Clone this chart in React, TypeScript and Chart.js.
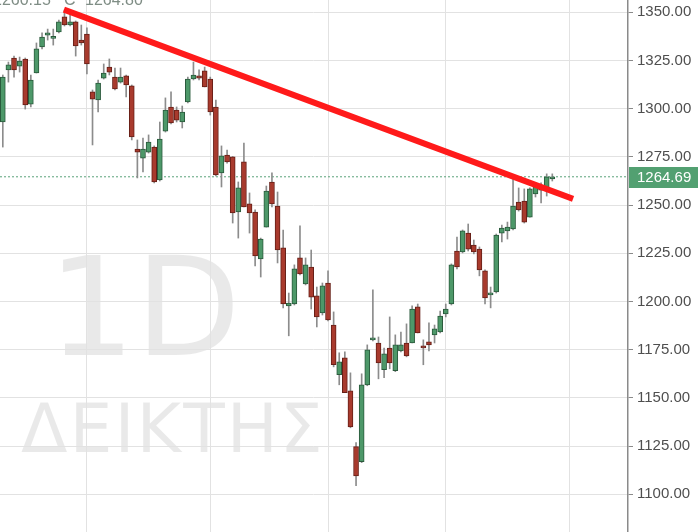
import React, { useEffect, useRef } from "react";
import { Chart, registerables } from "chart.js";

Chart.register(...registerables);

const opens = [
  1293.1, 1320.1, 1326.3, 1322.1, 1325.8, 1302.4, 1318.5, 1332.0, 1338.2, 1336.5,
  1339.8, 1347.6, 1343.4, 1345.0, 1335.6, 1338.7, 1308.7, 1304.5, 1315.9, 1321.6,
  1316.4, 1313.8, 1317.0, 1311.8, 1279.1, 1274.4, 1277.5, 1280.1, 1263.0, 1288.4,
  1300.9, 1299.3, 1293.1, 1303.5, 1315.4, 1317.0, 1319.6, 1315.4, 1300.9, 1266.7,
  1276.0, 1275.0, 1246.4, 1272.4, 1250.6, 1246.4, 1222.1, 1238.6, 1262.0, 1249.5,
  1227.8, 1197.7, 1198.7, 1222.6, 1209.1, 1217.9, 1202.9, 1194.1, 1209.6, 1187.8,
  1162.0, 1170.8, 1153.7, 1124.7, 1116.9, 1156.8, 1180.1, 1178.5, 1164.6, 1175.9,
  1164.1, 1174.4, 1178.5, 1178.5, 1197.2, 1177.0, 1179.1, 1182.7, 1184.2, 1193.6,
  1198.7, 1226.2, 1225.7, 1235.5, 1229.3, 1227.2, 1215.9, 1203.4, 1205.0, 1235.5,
  1236.6, 1237.6, 1251.6, 1252.1, 1243.8, 1255.8, 1259.9, 1257.3, 1263.6,
];
const highs = [
  1317.5, 1324.2, 1327.3, 1326.8, 1326.3, 1317.5, 1334.1, 1339.3, 1341.3, 1341.3,
  1346.0, 1351.2, 1349.5, 1345.5, 1343.4, 1341.9, 1309.7, 1314.9, 1323.2, 1325.8,
  1321.1, 1321.1, 1317.5, 1312.3, 1283.8, 1284.8, 1286.4, 1280.7, 1293.1, 1305.6,
  1308.7, 1300.9, 1301.4, 1316.4, 1324.2, 1320.1, 1321.6, 1316.4, 1304.5, 1280.7,
  1278.6, 1275.2, 1262.0, 1282.2, 1256.3, 1247.5, 1232.9, 1259.9, 1266.7, 1256.8,
  1237.1, 1204.4, 1219.0, 1239.2, 1222.6, 1226.7, 1207.5, 1209.6, 1215.9, 1194.6,
  1173.4, 1173.9, 1163.0, 1126.8, 1162.5, 1177.5, 1206.0, 1181.6, 1175.9, 1192.0,
  1182.7, 1184.2, 1188.4, 1197.7, 1198.7, 1180.1, 1188.9, 1187.8, 1195.0, 1198.7,
  1219.5, 1233.4, 1237.1, 1240.2, 1231.9, 1228.3, 1216.4, 1207.5, 1235.0, 1239.7,
  1241.2, 1263.6, 1258.9, 1258.4, 1258.9, 1261.5, 1261.5, 1266.2, 1266.2,
];
const lows = [
  1280.1, 1313.8, 1316.4, 1319.0, 1299.8, 1300.9, 1318.5, 1331.0, 1335.6, 1333.0,
  1339.3, 1342.9, 1342.9, 1327.3, 1333.0, 1318.0, 1281.2, 1298.3, 1315.4, 1317.5,
  1309.7, 1313.3, 1306.1, 1283.8, 1264.1, 1267.2, 1277.0, 1261.5, 1262.5, 1287.9,
  1292.1, 1293.1, 1290.0, 1303.0, 1314.9, 1314.9, 1311.3, 1296.7, 1265.1, 1259.4,
  1271.8, 1240.7, 1232.9, 1249.0, 1235.5, 1218.5, 1212.7, 1238.6, 1249.0, 1220.0,
  1196.7, 1182.2, 1198.2, 1213.8, 1208.6, 1196.1, 1186.8, 1193.0, 1189.9, 1166.1,
  1156.8, 1152.7, 1134.5, 1104.5, 1116.4, 1156.3, 1179.6, 1159.9, 1160.5, 1165.1,
  1163.6, 1173.9, 1171.3, 1178.5, 1183.7, 1167.2, 1174.4, 1178.5, 1183.7, 1192.0,
  1198.2, 1216.9, 1225.2, 1226.2, 1224.7, 1213.3, 1198.7, 1196.7, 1204.4, 1230.9,
  1232.4, 1237.1, 1246.9, 1240.7, 1243.8, 1254.2, 1251.1, 1254.7, 1262.5,
];
const closes = [
  1316.4, 1322.7, 1320.1, 1324.7, 1301.9, 1314.9, 1331.0, 1337.2, 1339.3, 1336.9,
  1345.0, 1343.4, 1345.0, 1332.5, 1334.1, 1323.2, 1305.0, 1313.3, 1318.5, 1319.0,
  1310.2, 1316.4, 1312.3, 1285.3, 1277.5, 1279.1, 1282.7, 1262.0, 1284.3, 1299.3,
  1292.6, 1294.1, 1298.3, 1315.4, 1317.5, 1315.9, 1311.3, 1298.3, 1265.7, 1275.5,
  1272.4, 1245.9, 1258.9, 1249.0, 1245.9, 1223.6, 1232.4, 1257.3, 1250.6, 1226.7,
  1198.7, 1199.2, 1216.9, 1214.3, 1219.0, 1202.3, 1192.0, 1208.1, 1190.4, 1167.2,
  1168.7, 1152.7, 1135.0, 1109.6, 1156.8, 1174.9, 1181.1, 1168.2, 1172.8, 1168.2,
  1177.5, 1177.5, 1171.8, 1196.1, 1183.7, 1175.9, 1177.5, 1185.8, 1192.5, 1196.1,
  1219.0, 1217.9, 1236.6, 1227.2, 1225.7, 1216.4, 1201.8, 1204.4, 1234.5, 1238.1,
  1238.6, 1249.5, 1247.5, 1241.2, 1258.4, 1259.9, 1257.8, 1264.6, 1264.69,
];

const slotCount = 112; // daily slots on the time axis, incl. empty space right of the last bar
const monthGridIdx = [15, 37, 58, 79, 101];
const yTickValues = [1100, 1125, 1150, 1175, 1200, 1225, 1250, 1275, 1300, 1325, 1350];
const trendLine = [
  { x: 10.9, y: 1351.4 },
  { x: 101.7, y: 1253.2 },
];
const lastPrice = 1264.69;
const headerValues = ["1260.15", "C", "1264.80"];
const watermarkLines = ["1D", "ΔΕΙΚΤΗΣ"];

const UP = "#4d9869";
const UP_BORDER = "#2a5a3c";
const DOWN = "#a83a2d";
const DOWN_BORDER = "#661f17";
const WICK = "#8c8c8c";

const decorPlugin = {
  id: "decor",
  beforeDraw(chart: any) {
    const { ctx, width, height } = chart;
    ctx.save();
    ctx.fillStyle = "#ffffff";
    ctx.fillRect(0, 0, width, height);
    ctx.fillStyle = "rgba(0,0,0,0.085)";
    ctx.textAlign = "left";
    ctx.textBaseline = "alphabetic";
    ctx.font = "137px 'DejaVu Sans'";
    ctx.fillText(watermarkLines[0], 48, 355);
    ctx.font = "68px 'DejaVu Sans'";
    try {
      ctx.letterSpacing = "2px";
    } catch (e) {}
    ctx.fillText(watermarkLines[1], 21, 452);
    ctx.restore();
  },
  afterDraw(chart: any) {
    const { ctx } = chart;
    const y = chart.scales.y.getPixelForValue(lastPrice);
    ctx.save();
    ctx.fillStyle = "#52a071";
    ctx.fillRect(629, Math.round(y) - 10, 69, 21);
    ctx.fillStyle = "#ffffff";
    ctx.font = "15px 'Liberation Sans'";
    ctx.textAlign = "left";
    ctx.textBaseline = "middle";
    ctx.fillText(lastPrice.toFixed(2), 637, y + 1);

    ctx.fillStyle = "#7f8d85";
    ctx.textBaseline = "alphabetic";
    ctx.font = "16px 'Liberation Sans'";
    ctx.fillText(headerValues[0], -7, 5);
    ctx.fillText(headerValues[1], 64, 5);
    ctx.fillText(headerValues[2], 85, 5);
    ctx.restore();
  },
};

export default function App() {
  const canvasRef = useRef<HTMLCanvasElement | null>(null);

  useEffect(() => {
    if (!canvasRef.current) return;
    const idx = opens.map((_, i) => i);
    const bodies = idx.map((i) => ({ x: i, y: [opens[i], closes[i]] }));
    const wicks = idx.map((i) => ({ x: i, y: [lows[i], highs[i]] }));
    const up = idx.map((i) => closes[i] >= opens[i]);

    const chart = new Chart(canvasRef.current, {
      type: "bar",
      data: {
        datasets: [
          {
            type: "line",
            data: trendLine,
            borderColor: "#ff1a1a",
            borderWidth: 6,
            borderCapStyle: "butt",
            pointRadius: 0,
            order: 0,
          } as any,
          {
            type: "bar",
            data: bodies,
            backgroundColor: up.map((u) => (u ? UP : DOWN)),
            borderColor: up.map((u) => (u ? UP_BORDER : DOWN_BORDER)),
            borderWidth: 1,
            borderSkipped: false,
            barThickness: 5,
            minBarLength: 2,
            grouped: false,
            order: 1,
          } as any,
          {
            type: "bar",
            data: wicks,
            backgroundColor: WICK,
            barThickness: 1,
            grouped: false,
            order: 2,
          } as any,
          {
            type: "line",
            data: [
              { x: -0.5, y: lastPrice },
              { x: slotCount - 0.5, y: lastPrice },
            ],
            borderColor: "#5aa27a",
            borderWidth: 1,
            borderDash: [2, 2],
            pointRadius: 0,
            order: 3,
          } as any,
        ],
      },
      options: {
        responsive: false,
        animation: false,
        events: [],
        layout: { padding: 0 },
        plugins: {
          legend: { display: false },
          tooltip: { enabled: false },
        },
        scales: {
          x: {
            type: "linear",
            min: -0.5,
            max: slotCount - 0.5,
            offset: false,
            ticks: { display: false },
            grid: { color: "#e2e2e2", lineWidth: 1, drawTicks: false, offset: false },
            border: { display: false },
            afterBuildTicks: (s: any) => {
              s.ticks = monthGridIdx.map((v) => ({ value: v }));
            },
            afterFit: (s: any) => {
              s.height = 0;
              s.paddingLeft = 0;
              s.paddingRight = 0;
            },
          },
          y: {
            type: "linear",
            position: "right",
            min: 1080.45,
            max: 1356.38,
            afterBuildTicks: (s: any) => {
              s.ticks = yTickValues.map((v) => ({ value: v }));
            },
            afterFit: (s: any) => {
              s.width = 72;
              s.paddingTop = 0;
              s.paddingBottom = 0;
            },
            ticks: {
              callback: (v: any) => Number(v).toFixed(2),
              font: { family: "'Liberation Sans'", size: 15 },
              color: "#4f4f4f",
              padding: 4,
            },
            grid: {
              color: "#e2e2e2",
              lineWidth: 1,
              tickLength: 5,
              tickColor: "#8a8a8a",
            },
            border: { display: true, color: "#8a8a8a", width: 1.5 },
          },
        },
      },
      plugins: [decorPlugin],
    } as any);

    return () => chart.destroy();
  }, []);

  return (
    <div style={{ position: "fixed", left: 0, top: 0, width: 700, height: 532, background: "#fff" }}>
      <canvas ref={canvasRef} width={700} height={532} style={{ display: "block", width: 700, height: 532 }} />
    </div>
  );
}
